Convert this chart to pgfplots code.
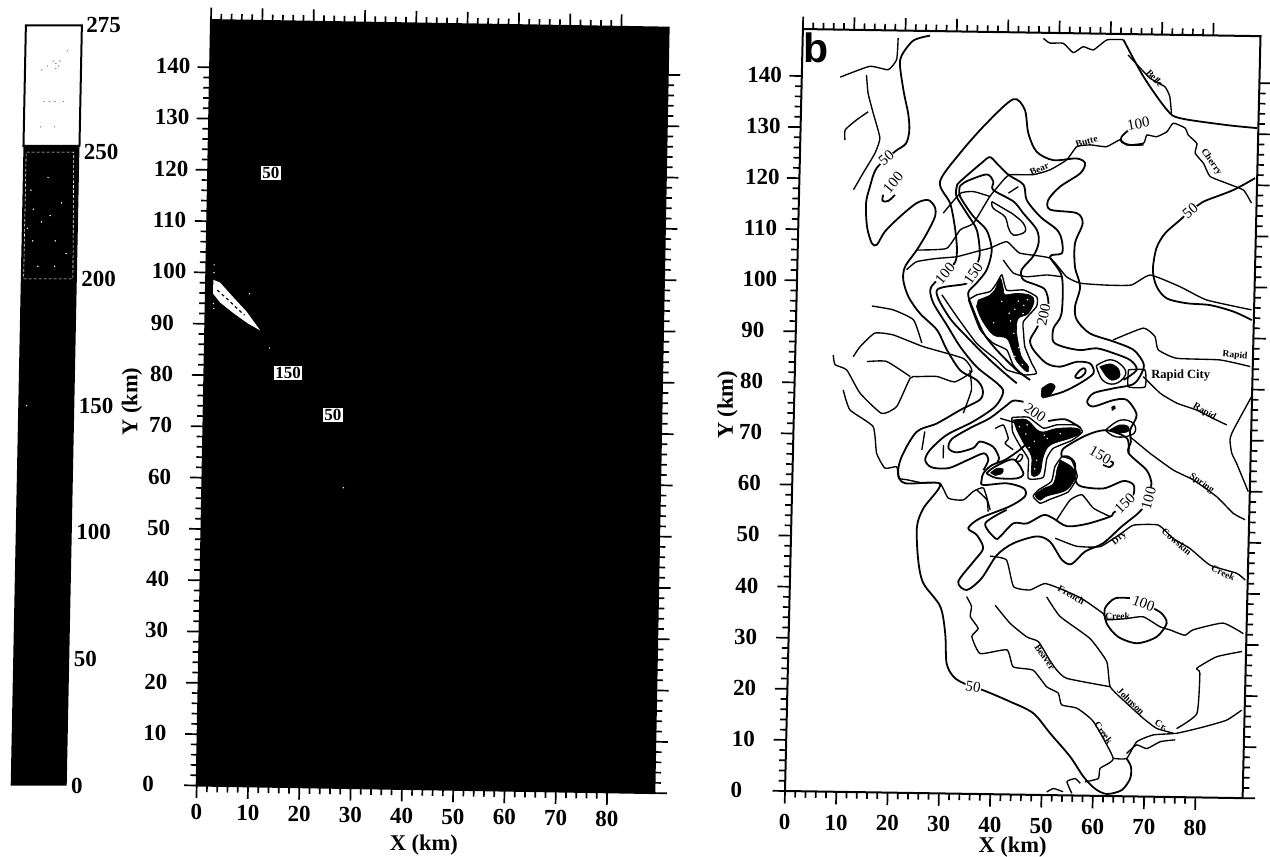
\documentclass[border=0pt]{standalone}
\usepackage{fontspec}
\usepackage{pgfplots}
\pgfplotsset{compat=1.18}
\setmainfont{Liberation Serif}
\newfontfamily\bsans{Liberation Sans}
\pgfplotsset{
  km/.style={
    xmin=0,xmax=89.2,ymin=0,ymax=149.2,
    xtick={0,10,...,80},ytick={0,10,...,140},
    minor x tick num=4,minor y tick num=4,
    tick align=outside,
    major tick length=12.5pt,minor tick length=6.5pt,
    every tick/.append style={black,line width=1.7pt},
    every minor tick/.append style={black,line width=1.7pt},
    axis line style={line width=2pt},
    tick label style={font=\fontsize{23}{23}\selectfont\bfseries},
    /pgf/number format/assume math mode=true,
    /pgf/number format/1000 sep={},
    yticklabel style={anchor=west,xshift=-45.4pt,yshift=1pt},
    label style={font=\fontsize{22.5}{23}\selectfont\bfseries},
    clip=false,
  },
  cont/.style={black,line width=1.8pt,smooth,tension=.5,line join=round},
  riv/.style={black,line width=1.35pt,smooth,tension=.3,line join=round},
  dark/.style={black,fill=black,line width=.6pt,smooth,tension=.6},
}
\tikzset{
  clab/.style={font=\fontsize{15}{15}\selectfont,fill=white,inner sep=.5pt},
  rlab/.style={font=\fontsize{9.5}{10}\selectfont\bfseries,inner sep=0pt},
  blab/.style={font=\fontsize{17}{17}\selectfont\bfseries,fill=white,text=black,inner sep=1.5pt},
}
\begin{document}
\begin{tikzpicture}[x=1pt,y=1pt]
\useasboundingbox (0,0) rectangle (1270,857);

% colour scale
\begin{axis}[
  at={(10.7pt,71.3pt)},anchor=origin,
  x={(56pt,0pt)},y={(2.53pt,126.7pt)},
  xmin=0,xmax=1,ymin=0,ymax=6,
  xtick=\empty,ytick={0,1,2,3,4,5,6},
  yticklabels={0,50,100,150,200,250,275},
  ytick pos=right,major tick length=0pt,
  axis line style={draw=none},
  tick label style={font=\fontsize{23}{23}\selectfont\bfseries},
  yticklabel style={anchor=west,xshift=1pt},
  clip=false]
\addplot[fill=black,draw=none] coordinates {(0,0)(1,0)(1,5.05)(0,5.05)} --cycle;
\addplot[fill=white,draw=black,line width=2pt] coordinates {(0,5.05)(1,5.05)(1,6)(0,6)} --cycle;
\addplot[white,line width=.6pt,densely dashed] coordinates {(0.05,4)(0.93,4)(0.9,5)(0.05,5)} --cycle;
\addplot[only marks,mark=*,mark size=.45pt,white] coordinates {
 (.15,4.7)(.2,4.55)(.35,4.45)(.5,4.5)(.2,4.3)(.1,4.4)(.6,4.3)(.7,4.6)(.3,4.1)(.6,4.1)(.8,4.2)(.45,4.8)(.15,3.0)};
\addplot[only marks,mark=*,mark size=.4pt,gray] coordinates {
 (.5,5.72)(.55,5.7)(.6,5.68)(.55,5.66)(.62,5.72)(.4,5.68)(.3,5.65)(.35,5.4)(.45,5.4)(.55,5.4)(.7,5.4)(.3,5.2)(.55,5.2)(.75,5.8)};
\end{axis}

% left panel
\begin{axis}[km,
  at={(196.7pt,71.5pt)},anchor=origin,
  x={(5.13pt,-0.085pt)},y={(0.096pt,5.13pt)},
  xlabel={X (km)},ylabel={Y (km)},
  xticklabel style={anchor=north,yshift=-3pt},
  every axis x label/.append style={at={(axis cs:44.5,-10.8)},anchor=center},
  every axis y label/.append style={at={(axis cs:-14,74.6)},anchor=center}]
\addplot[fill=black,draw=none] coordinates {(0,0)(89.2,0)(89.2,149.2)(0,149.2)} --cycle;
\addplot[fill=white,draw=none] coordinates {(1.4,98.6)(2.7,98.1)(5.4,95.2)(8.0,92.5)(10.7,88.9)(8.3,90.2)(5.4,92.2)(2.8,94.2)(1.4,95.9)} --cycle;
\addplot[black,line width=1.2pt,dashed] coordinates {(2.2,96.6)(4.2,94.9)(5.8,93.4)(7.6,91.8)};
\addplot[only marks,mark=*,mark size=.4pt,white] coordinates {(1.5,100)(1.5,101.5)(1.5,94)(1.6,93)(8.5,96)(12.6,85.5)(27.5,58.5)};
\node[blab] at (axis cs:12.2,119.6) {50};
\node[blab] at (axis cs:16.3,80.7) {150};
\node[blab] at (axis cs:25.2,72.6) {50};
\end{axis}

% right panel
\begin{axis}[km,
  at={(785pt,66pt)},anchor=origin,
  x={(5.13pt,-0.08pt)},y={(0.12pt,5.107pt)},
  xlabel={X (km)},ylabel={Y (km)},
  xticklabel style={anchor=north,yshift=-7pt},
  every axis x label/.append style={at={(axis cs:44.6,-10.2)},anchor=center},
  every axis y label/.append style={at={(axis cs:-13,75.4)},anchor=center}]

% rivers
\addplot[riv] coordinates {(46.9,148.1)(48.2,147.2)(50.8,147.2)(52.8,145.4)(54.7,146.6)(56.7,146.0)(59.3,148.0)(62.5,148.1)};
\addplot[cont] coordinates {(62.5,148.1)(66.6,140.9)(71.3,134.5)(73.9,132.9)(83.0,131.7)(88.9,131.2)};
\addplot[riv] coordinates {(63.5,145.1)(65.9,142.6)(67.9,140.6)(70.8,139.0)(71.8,137.1)(72.2,133.8)};
\addplot[riv] coordinates {(39.8,120.3)(41.0,121.3)(45.6,121.4)(48.8,122.4)(52.0,124.4)(53.9,127.0)(56.5,127.4)(59.7,127.1)(62.3,128.5)(63.6,127.5)(66.9,127.9)(67.5,129.5)(69.4,129.2)(71.4,130.2)(72.6,131.9)(74.9,131.0)(75.6,129.6)(77.3,128.0)(77.0,126.1)(78.7,124.1)(80.0,121.6)(83.3,120.3)(86.6,119.0)(88.2,116.5)};
\addplot[riv] coordinates {(23.2,106.3)(29.0,106.7)(31.6,110.4)(34.1,111.7)(37.2,117.0)(39.8,120.3)};
\addplot[riv] coordinates {(37.2,117.0)(34.0,117.9)(31.4,117.5)(28.2,113.6)};
\addplot[riv] coordinates {(40.8,117.7)(42.7,119.0)};
\addplot[riv] coordinates {(18.6,147.7)(18.4,143.5)(16.8,141.5)(13.2,142.1)(7.5,139.9)};
\addplot[riv] coordinates {(12.6,140.4)(13.0,136.8)(14.1,132.9)(15.5,128.1)(14.6,125.1)(12.4,121.2)(10.6,117.9)};
\addplot[riv] coordinates {(13.1,133.2)(10.9,131.6)(8.7,129.6)(8.7,127.6)};
\addplot[riv] coordinates {(21.3,102.4)(23.2,104.0)(27.1,104.7)(31.0,105.1)(34.9,106.2)(37.5,106.9)(40.7,108.2)(43.3,106.0)(49.2,105.1)(52.5,101.5)(55.2,100.3)(60.4,100.0)(65.2,100.1)(68.8,102.1)(74.7,99.9)(79.9,97.4)(88.7,95.6)};
\addplot[riv] coordinates {(40.1,104.6)(42.1,102.1)(44.7,101.4)(48.6,101.8)(51.6,101.5)};
\addplot[riv] coordinates {(14.7,95.2)(18.9,94.5)(22.9,92.6)(24.6,88.1)};
\addplot[riv] coordinates {(7.4,85.5)(7.8,83.6)(10.1,82.6)(12.8,78.1)(17.1,74.2)(20.0,75.6)(22.5,81.2)(23.8,81.5)(27.7,81.6)(31.2,80.6)(34.5,82.7)(32.8,85.2)(24.9,87.4)(19.0,89.6)(15.4,89.9)(12.6,87.2)(11.3,85.2)};
\addplot[riv] coordinates {(14.0,84.3)(17.8,84.4)(22.5,81.5)};
\addplot[riv] coordinates {(9.5,78.7)(10.9,74.8)(15.5,71.6)(16.3,66.4)(18.0,63.5)(20.3,63.8)(20.7,61.6)(22.3,61.3)(25.6,60.7)(28.8,60.7)(30.5,57.8)(33.4,57.5)(35.3,59.2)(37.3,59.9)(38.7,55.6)};
\addplot[riv] coordinates {(34.1,83.0)(34.5,79.1)(33.0,74.5)};
\addplot[riv] coordinates {(29.3,68.2)(29.3,65.6)};
\addplot[riv] coordinates {(25.6,70.8)(25.1,67.2)};
\addplot[riv] coordinates {(36.0,59.5)(38.0,57.6)(38.3,55.3)};
\addplot[riv] coordinates {(61.9,89.3)(67.7,91.7)(70.0,90.1)(70.7,87.5)(74.3,85.9)(82.8,85.7)(88.7,84.5)};
\addplot[riv] coordinates {(67.9,82.2)(71.3,79.0)(74.6,77.1)(78.5,75.8)(81.8,74.2)(84.4,73.0)};
\addplot[riv] coordinates {(89.1,78.6)(85.7,72.0)(85.1,70.1)(85.5,67.5)(86.5,65.5)(88.9,60.0)};
\addplot[riv] coordinates {(65.6,70.4)(69.6,67.2)(74.2,64.0)(78.2,62.1)(82.8,58.9)(86.1,55.7)(88.4,54.5)};
\addplot[riv] coordinates {(51.5,50.3)(55.7,48.8)(60.3,48.8)(64.4,51.5)(66.7,53.1)(71.5,53.2)(74.5,50.6)(77.8,48.7)(81.8,45.5)(87.0,44.0)(88.7,42.7)};
\addplot[riv] coordinates {(38.9,46.6)(42.1,45.9)(43.6,40.7)(46.8,40.1)(49.7,41.4)(53.3,40.2)(56.9,38.6)(61.2,35.7)(61.9,34.5)(65.8,34.8)(69.0,35.2)(72.3,33.3)(74.3,32.7)(77.2,31.7)(78.8,32.8)(84.6,34.2)(88.6,32.2)};
\addplot[riv] coordinates {(50.1,38.8)(52.8,35.0)(58.7,30.8)(62.1,26.3)(62.9,21.4)(66.2,18.2)(69.5,15.3)(72.1,13.4)(75.4,12.5)};
\addplot[riv] coordinates {(40.1,37.0)(43.1,33.5)(46.4,30.9)(48.7,30.0)(51.0,26.4)(52.4,24.5)(54.4,22.9)(62.9,21.4)};
\addplot[riv] coordinates {(34.5,38.6)(35.5,36.7)(35.3,34.7)(36.9,32.4)(35.7,30.8)(37.4,27.5)(42.6,28.3)(43.9,25.0)(47.8,24.4)(50.5,21.2)(52.8,20.0)(53.5,17.7)(56.5,17.1)(59.8,14.5)(63.8,7.4)(61.3,5.4)(61.0,3.4)(58.4,2.7)};
\addplot[riv] coordinates {(63.8,7.4)(66.4,7.4)(68.3,10.7)(71.5,12.1)(76.1,12.5)(81.2,13.8)(85.7,15.2)(88.6,17.2)};
\addplot[riv] coordinates {(66.4,8.4)(68.3,10.1)(70.3,9.4)(72.9,10.8)(75.8,11.2)};
\addplot[riv] coordinates {(76.0,13.4)(79.9,16.4)(80.3,24.3)(79.7,25.3)(83.5,27.6)(88.4,28.7)};
\addplot[riv] coordinates {(55.9,.4)(54.9,2.7)(56.5,3.3)(57.5,2.4)};
\addplot[riv] coordinates {(51.0,.6)(52.3,1.3)(54.2,.7)};
\addplot[riv] coordinates {(51.7,53.9)(54.2,57.8)(56.5,58.9)(58.8,56.3)(62.1,54.7)};
\addplot[riv,smooth=false] coordinates {(65.0,83.5)(68.2,83.5)(68.3,80.2)(65.05,80.2)(65.0,83.5)};

% contours
\addplot[cont] coordinates {(24.8,148.3)(21.6,147.3)(19.4,144.4)(19.1,142.2)(20.0,136.9)(20.9,133.0)(21.2,129.7)(20.6,127.1)(18.5,125.5)(15.0,122.2)(13.8,118.6)(13.1,115.3)(13.4,110.7)(14.4,107.5)(15.4,107.2)(16.9,109.8)(19.8,112.8)(23.0,115.5)(25.2,116.1)(26.5,114.8)(26.6,112.9)(25.1,109.6)(23.2,106.3)(21.0,103.0)(20.7,100.4)(21.8,97.1)(24.1,93.9)(27.5,90.7)(29.5,86.9)(32.2,82.9)(35.5,81.0)(36.7,79.1)(36.2,77.2)(32.4,75.1)(27.9,72.4)(24.0,70.7)(21.2,65.8)(20.6,62.5)(22.0,60.6)(28.8,60.6)(25.7,55.8)(24.5,52.1)(24.9,45.6)(26.0,41.1)(29.4,36.6)(30.5,31.3)(30.9,25.5)(32.3,22.9)(34.4,21.6)(38.5,20.2)(43.4,18.2)(48.0,16.0)(51.4,12.1)(55.4,7.6)(58.1,3.7)(60.4,1.4)(62.7,.4)(65.6,1.2)(67.2,3.5)(67.3,5.8)(66.4,7.4)};
\addplot[cont] coordinates {(88.8,121.4)(84.6,119.0)(79.4,116.9)(78.2,116.2)(76.3,114.8)(74.4,113.0)(71.5,110.3)(69.9,107.4)(69.3,103.1)(70.1,99.9)(72.1,97.6)(76.0,96.7)(80.6,96.4)(85.2,95.2)(88.8,93.6)};
\addplot[cont] coordinates {(31.0,105.1)(31.0,107.1)(30.5,111.0)(29.5,115.5)(27.4,119.7)(31.2,125.4)(36.2,131.3)(41.3,136.1)(43.6,134.1)(44.4,129.5)(46.1,125.9)(49.4,124.3)(53.9,124.7)(55.6,123.8)(54.7,121.8)(50.8,119.1)(48.6,116.5)(49.0,114.6)(54.2,114.0)(55.4,112.0)(54.0,108.1)(54.1,103.5)(55.2,99.6)(54.3,95.7)(54.7,93.1)(57.3,90.5)(61.9,89.0)(65.9,87.4)(67.9,84.8)(67.6,82.9)(66.0,80.7)(62.1,79.8)(58.3,78.8)(57.1,77.1)(58.3,76.2)(62.2,77.5)(64.8,77.6)(66.8,74.7)(65.6,71.7)(65.8,69.4)(65.4,67.2)(69.0,63.9)(70.0,61.3)(69.4,59.7)(69.5,58.4)(67.9,55.8)(64.4,52.8)(60.9,49.5)(57.4,47.8)(54.8,45.3)(52.9,46.1)(50.5,49.6)(47.9,50.6)(43.4,49.2)(40.2,46.8)(37.3,42.2)(34.5,39.9)(32.8,41.5)(35.7,45.5)(37.5,48.1)(36.2,50.7)(34.5,52.0)(36.8,54.0)(42.5,56.4)(45.4,58.4)(45.1,60.0)(41.8,60.9)(37.2,60.5)(36.9,61.5)(37.2,62.8)(38.8,64.4)(41.4,65.5)(44.2,67.5)(45.5,68.8)};
\addplot[cont] coordinates {(31.0,105.1)(30.4,103.5)(26.9,100.0)(26.0,98.5)(26.7,95.9)(29.4,91.7)(32.1,87.5)(35.4,83.6)(39.4,80.5)(40.7,78.8)(39.2,75.9)(35.0,72.9)(29.9,70.2)(26.7,67.2)(25.8,65.2)(27.1,63.8)(30.4,63.7)(34.2,65.4)(37.2,66.7)(38.1,65.4)(37.2,63.4)};
\addplot[cont] coordinates {(43.3,80.5)(40.6,82.7)(37.3,85.6)(33.3,89.5)(29.7,93.4)(27.3,98.5)(33.1,99.9)(34.3,101.9)(35.0,103.6)(35.5,105.9)(34.8,110.4)(32.8,113.6)(30.7,116.9)(30.7,118.8)(31.3,119.8)(35.4,123.5)(37.0,124.7)(38.4,123.5)(40.7,121.3)(43.7,119.4)(44.4,116.4)(47.1,113.2)(50.4,110.7)(51.4,108.7)(51.5,106.1)(49.2,105.4)(51.6,101.5)(51.7,94.3)(50.2,91.4)(50.2,88.8)(52.2,87.8)(55.5,87.2)(58.7,87.6)(62.0,86.7)(65.3,85.4)(66.6,83.5)(64.1,81.5)};
\addplot[cont] coordinates {(31.3,118.9)(32.6,119.9)(36.5,121.3)(37.8,119.9)(37.8,118.3)(41.8,116.1)(43.8,113.8)(46.5,110.6)(46.9,108.0)(45.9,105.4)(43.7,102.7)(44.1,100.8)(46.7,99.8)(48.4,98.9)(49.1,96.3)(48.2,94.0)(46.9,91.3)(45.7,89.0)(46.4,87.1)(49.0,84.5)(51.7,83.9)(54.9,84.9)(57.5,84.6)(58.2,82.7)(55.6,80.7)(52.4,79.0)(49.2,78.0)};
\addplot[cont] coordinates {(31.3,118.9)(31.4,116.9)(34.1,113.0)(36.7,110.4)(37.8,106.5)(36.9,102.6)(35.0,100.0)(33.4,98.0)(34.5,94.7)(36.6,90.2)(39.2,87.0)(43.2,83.1)(45.9,81.2)};
\addplot[riv] coordinates {(28.3,97.6)(31.3,93.4)(35.3,88.2)(39.3,85.0)(41.3,83.1)(44.5,82.2)};
\addplot[riv,smooth,tension=.6] coordinates {(37.6,116.0)(39.9,114.7)(41.5,113.8)(43.8,111.9)(44.2,110.2)(42.0,109.5)(41.0,110.8)(40.2,113.1)(37.9,114.7)(37.6,116.0)};
\addplot[riv] coordinates {(33.5,96.7)(35.9,90.9)(38.5,88.3)(41.2,87.0)(42.5,84.1)(44.5,82.2)(47.1,82.5)(46.1,84.5)(44.7,87.7)(44.4,90.3)(44.3,92.6)(46.8,95.6)(46.8,97.5)(44.2,98.8)(40.9,98.7)(39.9,101.7)(38.9,100.0)(37.7,98.4)(35.1,97.7)(33.5,96.7)};
\addplot[cont,tension=.8] coordinates {(54.6,82.0)(55.6,83.3)(56.5,83.6)(56.5,82.6)(55.3,81.7)(54.6,82.0)};

% dark kernels
\addplot[dark] coordinates {(35.4,96.7)(37.7,97.7)(38.6,98.7)(39.6,101.0)(40.3,98.7)(40.6,97.8)(42.9,98.1)(45.5,97.8)(46.3,96.6)(45.2,94.2)(43.3,93.2)(43.0,91.0)(43.4,88.4)(44.1,85.7)(45.5,83.8)(45.2,82.8)(43.2,84.8)(42.2,87.0)(41.1,89.3)(38.5,89.9)(36.2,92.8)(35.1,95.4)} --cycle;
\addplot[only marks,mark=*,mark size=.5pt,white] coordinates {(43.2,96.6)(44.3,95.8)(45,96.9)(42.6,95.0)(44.2,94.2)(41.8,92.7)(40,96.5)(42.5,90.3)(43.5,87.5)(42.8,85.8)(44.3,84.2)(38.5,92.3)(41.5,94.2)};
\addplot[dark] coordinates {(59.4,84.0)(61.4,84.6)(63.0,83.7)(63.3,82.1)(61.8,81.4)(60.5,82.4)} --cycle;
\addplot[riv,smooth,tension=.7] coordinates {(58.7,84.2)(61.4,85.4)(63.8,84.2)(64.4,82.4)(62.4,80.7)(60,81.4)(58.7,84.2)};
\addplot[dark] coordinates {(48.2,79.6)(49.8,80.6)(50.8,80.0)(49.8,78.3)(48.5,77.7)(48.1,78.3)} --cycle;
\addplot[dark] coordinates {(42.8,73.3)(45.4,73.4)(48.1,71.1)(51.3,71.8)(55.2,71.9)(55.9,70.9)(53.9,69.9)(50.1,68.5)(48.8,66.2)(48.2,63.0)(46.6,62.6)(46.5,66.2)(44.9,68.8)(43.5,71.4)} --cycle;
\addplot[only marks,mark=*,mark size=.5pt,white] coordinates {(44,72)(45.5,72.4)(45.3,70.6)(47,69.2)(46,68)(47.5,65.5)(47.2,63.8)(49.5,69.8)(52,70.8)(48.9,70.4)};
\addplot[riv] coordinates {(42.5,73.8)(45.7,73.9)(48.7,71.8)(51.3,72.5)(55.2,72.5)(56.3,71.2)(54.3,69.5)(50.7,67.9)(49.5,65.9)(48.9,62.2)(46.0,61.9)(45.9,65.7)(44.2,68.3)(42.7,71.0)(42.5,73.8)};
\addplot[dark] coordinates {(52.1,65.6)(54.4,64.3)(55.1,62.4)(53.5,59.8)(49.6,58.5)(48.4,57.7)(47.4,58.7)(49.0,60.0)(50.9,61.0)(51.5,63.7)} --cycle;
\addplot[riv] coordinates {(52.4,66.3)(54.3,65.7)(55.5,62.4)(53.8,59.4)(50.3,57.9)(48.4,57.1)(47.0,58.4)(48.0,59.7)(50.5,61.4)(51.1,64.3)(52.4,66.3)};
\addplot[dark] coordinates {(38.6,62.9)(39.8,63.8)(41.0,63.7)(40.8,62.8)(39.5,62.4)} --cycle;
\addplot[riv,smooth,tension=.6] coordinates {(43.4,65.3)(44.2,66.6)(44.8,66.3)(44.3,65.3)(43.4,65.3)};
\addplot[dark] coordinates {(62.0,75.5)(62.6,75.9)(62.4,76.4)(61.9,76.1)} --cycle;
\addplot[dark] coordinates {(61.7,71.7)(63.6,72.7)(65.2,72.4)(65.2,71.4)(63.0,71.0)} --cycle;
\addplot[riv,smooth,tension=.7] coordinates {(60.8,71.6)(63.6,73.6)(66.2,73)(66.3,71)(63,70.3)(60.8,71.6)};

% contours around the lower kernels
\addplot[cont] coordinates {(44.7,76.9)(42.7,77.1)(41.1,75.9)(38.2,73.6)(34.4,71.6)(30.9,69.4)(30.3,67.6)(31.9,66.8)(35.1,67.7)(36.4,69.0)(39.0,68.0)(40.2,65.8)(39.7,64.8)};
\addplot[cont] coordinates {(49.6,73.2)(52.9,73.6)(55.9,72)};
\addplot[riv] coordinates {(40.2,73.6)(43.5,72.7)};
\addplot[riv] coordinates {(39.3,71.6)(40.9,72.3)(41.9,69.7)(41.3,68.7)(42.9,67.5)};
\addplot[cont] coordinates {(37.8,62.8)(39.4,64.1)(43.0,65.6)(45.0,62.9)(43.7,61.9)(39.8,61.9)(37.8,62.8)};
\addplot[cont] coordinates {(52.4,66.3)(52.7,67.9)(57.2,70.6)(61.0,71.6)(65.0,70.1)(65.4,67.2)};
\addplot[cont] coordinates {(52.4,66.3)(53.7,66.3)(55.0,65.0)(55.1,61.8)(56.4,60.5)(60.7,60.2)(64.5,61.7)(66.5,61.0)(66.5,59.0)(64.9,57.3)(62.7,55.4)(62.1,54.7)(57.6,53.2)(53.7,52.7)(51.0,54.2)(49.1,54.8)(45.9,53.1)(43.3,53.1)(40.7,50.4)(39.8,50.1)(37.8,53.0)(41.9,55.7)};
\addplot[cont] coordinates {(66.3,38.8)(63.4,38.7)(61.5,36.7)(61.9,33.8)(64.2,31.2)(67.9,30.0)(71.7,31.3)(73.6,34.0)(72.6,35.9)(70.9,36.9)};
\addplot[cont] coordinates {(18.7,117.0)(17.4,115.8)(16.3,115.8)(16.4,117.0)};
\addplot[cont] coordinates {(63.9,130.4)(62.6,129.1)(62.6,128.1)(64.3,127.5)(66.9,127.6)};
\addplot[cont] coordinates {(61.5,65.7)(62.5,65.2)(61.8,64.4)(60.5,64.8)};

% contour labels
\node[clab,rotate=40] at (axis cs:16.8,124.2) {50};
\node[clab,rotate=50] at (axis cs:18.3,119.4) {100};
\node[clab,rotate=50] at (axis cs:28.8,101.8) {100};
\node[clab,rotate=55] at (axis cs:34.3,101.9) {150};
\node[clab,rotate=78] at (axis cs:48.2,94.0) {200};
\node[clab,rotate=-35] at (axis cs:47.0,74.8) {200};
\node[clab,rotate=-30] at (axis cs:59.9,66.7) {150};
\node[clab,rotate=45] at (axis cs:64.9,57.3) {150};
\node[clab,rotate=75] at (axis cs:69.5,58.4) {100};
\node[clab,rotate=-20] at (axis cs:69.0,37.8) {100};
\node[clab,rotate=-10] at (axis cs:36.2,21.0) {50};
\node[clab,rotate=40] at (axis cs:76.3,114.8) {50};
\node[clab,rotate=10] at (axis cs:65.8,131.7) {100};

% place names
\node[font=\fontsize{12.5}{13}\selectfont\bfseries,anchor=center] at (axis cs:75.2,82.6) {Rapid City};
\node[rlab,rotate=-48] at (axis cs:68.8,140.6) {Belle};
\node[rlab,rotate=15] at (axis cs:55.8,128.0) {Butte};
\node[rlab,rotate=22] at (axis cs:46.7,122.5) {Bear};
\node[rlab,rotate=-55] at (axis cs:80.2,124.4) {Cherry};
\node[rlab,rotate=-5] at (axis cs:85.7,86.6) {Rapid};
\node[rlab,rotate=-30] at (axis cs:80,75.5) {Rapid};
\node[rlab,rotate=-35] at (axis cs:79.8,61.4) {Spring};
\node[rlab,rotate=-40] at (axis cs:75.2,50.0) {Cowskin};
\node[rlab,rotate=-25] at (axis cs:84.4,44.0) {Creek};
\node[rlab,rotate=40] at (axis cs:64,50.4) {Dry};
\node[rlab,rotate=-30] at (axis cs:54.9,39.2) {French};
\node[rlab] at (axis cs:64,35.3) {Creek};
\node[rlab,rotate=-55] at (axis cs:50,27.0) {Beaver};
\node[rlab,rotate=-45] at (axis cs:67,18.6) {Johnson};
\node[rlab,rotate=-30] at (axis cs:73,14) {Cr.};
\node[rlab,rotate=-55] at (axis cs:61.8,12.4) {Creek};
\node[font=\fontsize{41}{41}\selectfont\bsans\bfseries,inner sep=0pt] at (axis cs:2.6,145.6) {b};
\end{axis}
\end{tikzpicture}
\end{document}
